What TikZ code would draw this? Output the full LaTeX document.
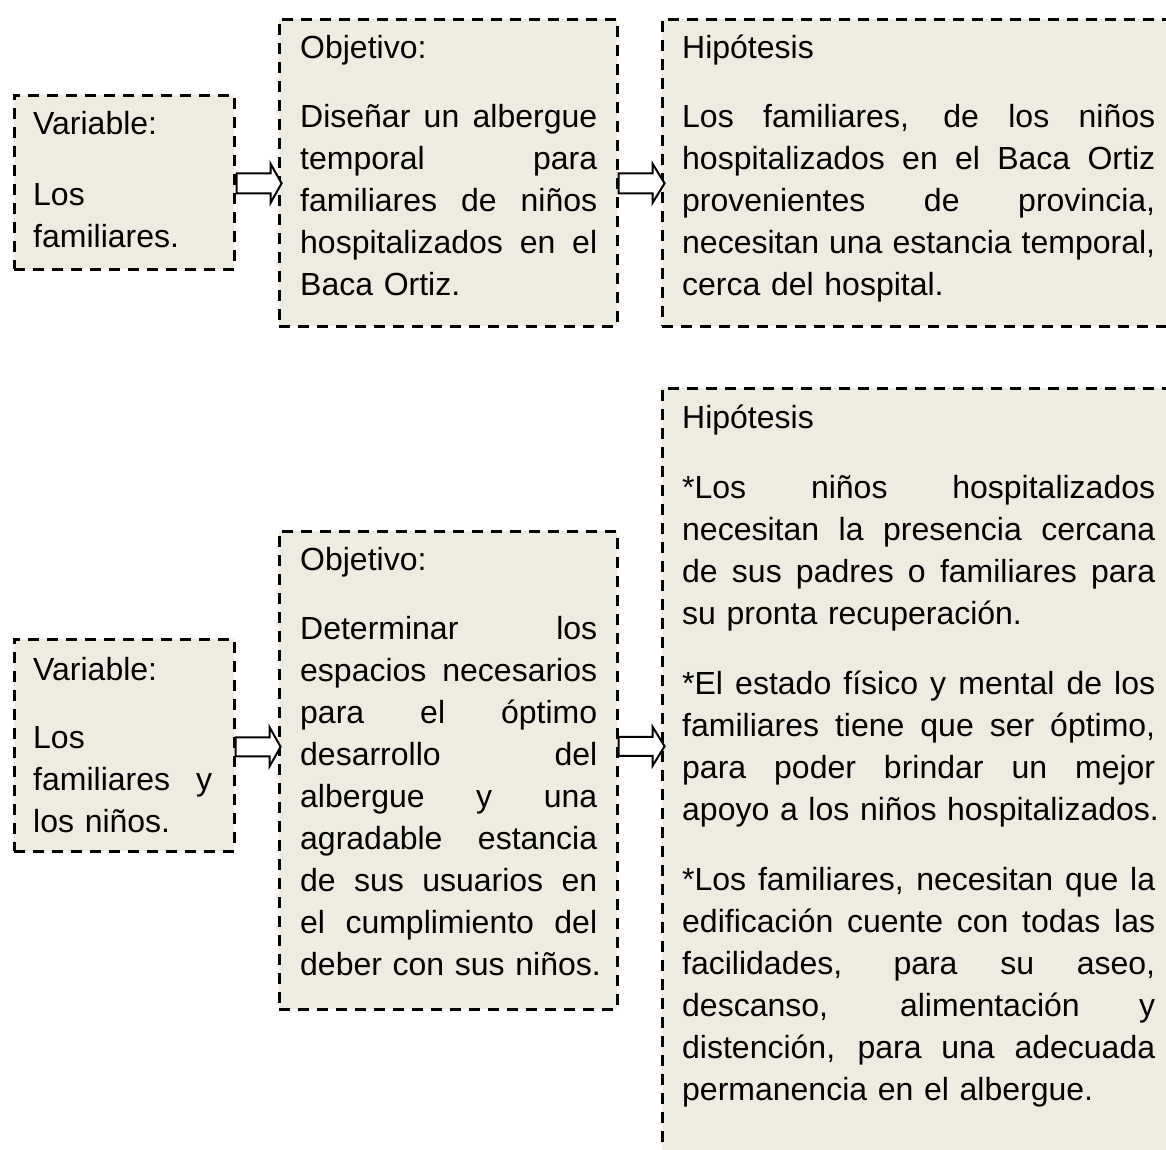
\documentclass[tikz,border=0pt]{standalone}
\usepackage{fontspec}
\setmainfont{Liberation Sans}
\usetikzlibrary{calc}
\setlength\parindent{0pt}
\definecolor{boxfill}{HTML}{EEECE1}
\newcommand\jl[2]{\makebox[#1][s]{\spaceskip=0.278em plus 1fil\relax #2}}
\newcommand\wV{179bp}
\newcommand\wO{297bp}
\newcommand\wH{473bp}
\tikzset{
  dbox/.style={rectangle, draw=black, fill=boxfill, dash pattern=on 11bp off 8bp,
    line width=2.6bp, inner sep=0pt, anchor=north west},
  txt/.style={anchor=north west, inner sep=0pt, align=left,
    font=\fontsize{32bp}{42bp}\selectfont},
  barrow/.style={draw=black, fill=white, line width=2bp, line join=miter},
}
\begin{document}
\begin{tikzpicture}[x=1bp,y=-1bp]
\useasboundingbox (0,0) rectangle (1166,1150);
\fill[white] (0,0) rectangle (1166,1150);
\clip (0,0) rectangle (1166,1150);

% ---------- Row 1 ----------
\node[dbox, minimum width=220bp, minimum height=174bp] (v1) at (13,94) {};
\node[dbox, minimum width=338bp, minimum height=307bp] (o1) at (278,18) {};
\node[dbox, minimum width=520bp, minimum height=307bp] (h1) at (661,18) {};

\node[txt, text width=\wV] (v1t) at (33,94)
  {\rule{0pt}{40bp}Variable:\\[29bp]
   \mbox{Los}\\
   \mbox{familiares.}};

\node[txt, text width=\wO] (o1t) at (300,18)
  {\rule{0pt}{40bp}Objetivo:\\[27bp]
   \jl{\wO}{Diseñar un albergue}\\
   \jl{\wO}{temporal para}\\
   \jl{\wO}{familiares de niños}\\
   \jl{\wO}{hospitalizados en el}\\
   \mbox{Baca Ortiz.}};

\node[txt, text width=\wH] (h1t) at (682,18)
  {\rule{0pt}{40bp}Hipótesis\\[27bp]
   \jl{\wH}{Los familiares, de los niños}\\
   \jl{\wH}{hospitalizados en el Baca Ortiz}\\
   \jl{\wH}{provenientes de provincia,}\\
   \jl{\wH}{necesitan una estancia temporal,}\\
   \mbox{cerca del hospital.}};

% ---------- Row 2 ----------
\node[dbox, minimum width=220bp, minimum height=212bp] (v2) at (13,638) {};
\node[dbox, minimum width=338bp, minimum height=478bp] (o2) at (278,530) {};
\node[dbox, minimum width=520bp, minimum height=820bp] (h2) at (661,387) {};

\node[txt, text width=\wV] (v2t) at (33,638)
  {\rule{0pt}{42bp}Variable:\\[26bp]
   \mbox{Los}\\
   \jl{\wV}{familiares y}\\
   \mbox{los niños.}};

\node[txt, text width=\wO] (o2t) at (300,530)
  {\rule{0pt}{40bp}Objetivo:\\[27bp]
   \jl{\wO}{Determinar los}\\
   \jl{\wO}{espacios necesarios}\\
   \jl{\wO}{para el óptimo}\\
   \jl{\wO}{desarrollo del}\\
   \jl{\wO}{albergue y una}\\
   \jl{\wO}{agradable estancia}\\
   \jl{\wO}{de sus usuarios en}\\
   \jl{\wO}{el cumplimiento del}\\
   \mbox{deber con sus niños.}};

\node[txt, text width=\wH] (h2t) at (682,387)
  {\rule{0pt}{41bp}Hipótesis\\[28bp]
   \jl{\wH}{*Los niños hospitalizados}\\
   \jl{\wH}{necesitan la presencia cercana}\\
   \jl{\wH}{de sus padres o familiares para}\\
   \mbox{su pronta recuperación.}\\[28bp]
   \jl{\wH}{*El estado físico y mental de los}\\
   \jl{\wH}{familiares tiene que ser óptimo,}\\
   \jl{\wH}{para poder brindar un mejor}\\
   \mbox{apoyo a los niños hospitalizados.}\\[28bp]
   \jl{\wH}{*Los familiares, necesitan que la}\\
   \jl{\wH}{edificación cuente con todas las}\\
   \jl{\wH}{facilidades, para su aseo,}\\
   \jl{\wH}{descanso, alimentación y}\\
   \jl{\wH}{distención, para una adecuada}\\
   \mbox{permanencia en el albergue.}};

% ---------- Block arrows ----------
\draw[barrow] ([yshift=-1bp]v1.east) +(1,-10) -- +(35,-10) -- +(35,-19.5) -- +(46,0)
  -- +(35,19.5) -- +(35,10) -- +(1,10) -- cycle;
\draw[barrow] ([yshift=-10.5bp]o1.east) +(0,-10) -- +(34,-10) -- +(34,-19.5) -- +(46,0)
  -- +(34,19.5) -- +(34,10) -- +(0,10) -- cycle;
\draw[barrow] ([yshift=-1.5bp]v2.east) +(0,-9.5) -- +(34,-9.5) -- +(34,-19.5) -- +(45,0)
  -- +(34,19.5) -- +(34,9.5) -- +(0,9.5) -- cycle;
\draw[barrow] ([yshift=24bp]o2.east) +(0,-9.5) -- +(34,-9.5) -- +(34,-19.5) -- +(46,0)
  -- +(34,19.5) -- +(34,9.5) -- +(0,9.5) -- cycle;
\end{tikzpicture}
\end{document}
